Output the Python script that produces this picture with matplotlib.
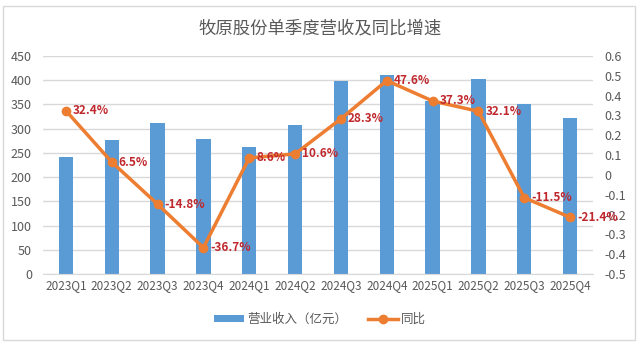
import matplotlib
matplotlib.use("Agg")
import matplotlib.pyplot as plt
from matplotlib.patches import Rectangle
from matplotlib.lines import Line2D
from matplotlib.patches import Patch

plt.rcParams['font.family'] = ['Noto Sans CJK SC', 'DejaVu Sans']

categories = ["2023Q1", "2023Q2", "2023Q3", "2023Q4", "2024Q1", "2024Q2",
              "2024Q3", "2024Q4", "2025Q1", "2025Q2", "2025Q3", "2025Q4"]
revenue = [241, 277, 311, 278, 263, 307, 398, 410, 358, 403, 351, 322]
yoy = [0.324, 0.065, -0.148, -0.367, 0.086, 0.106, 0.283, 0.476, 0.373, 0.321, -0.115, -0.214]
yoy_labels = ["32.4%", "6.5%", "-14.8%", "-36.7%", "8.6%", "10.6%",
              "28.3%", "47.6%", "37.3%", "32.1%", "-11.5%", "-21.4%"]
title = "牧原股份单季度营收及同比增速"
bar_name = "营业收入（亿元）"
line_name = "同比"

W, H = 640, 344
fig = plt.figure(figsize=(W/100, H/100), dpi=100)
fig.patches.append(Rectangle((3/W, 4/H), (635-3)/W, (340-6)/H, transform=fig.transFigure,
                             fill=False, edgecolor="#d9d9d9", linewidth=1))

ax = fig.add_axes([43/W, 1-274/H, (593-43)/W, (274-56)/H])
x = list(range(len(categories)))
bar_color = "#5B9BD5"
line_color = "#ED7D31"
grid_color = "#d9d9d9"
txt_color = "#595959"

ax.bar(x, revenue, width=0.31, color=bar_color, zorder=2)
ax.set_xlim(-0.5, len(categories) - 0.5)
ax.set_ylim(0, 450)
ax.set_yticks(range(0, 451, 50))
ax.yaxis.grid(True, color=grid_color, linewidth=1, zorder=0)
ax.set_axisbelow(True)
for s in ["top", "right", "left"]:
    ax.spines[s].set_visible(False)
ax.spines["bottom"].set_color(grid_color)
ax.tick_params(axis="both", length=0, colors=txt_color, labelsize=9)
ax.tick_params(axis="y", pad=8)
ax.set_xticks(x)
ax.set_xticklabels(categories, fontsize=8.5)

ax2 = ax.twinx()
ax2.set_ylim(-0.5, 0.6)
ax2.set_yticks([round(-0.5 + 0.1*i, 1) for i in range(12)])
ax2.set_yticklabels([("%g" % round(-0.5 + 0.1*i, 1)) for i in range(12)])
for s in ["top", "right", "left", "bottom"]:
    ax2.spines[s].set_visible(False)
ax2.tick_params(axis="y", length=0, colors=txt_color, labelsize=9, pad=8)
ax2.plot(x, yoy, color=line_color, linewidth=2.5, marker="o", markersize=6, zorder=3)
for xi, yi, lab in zip(x, yoy, yoy_labels):
    ax2.annotate(lab, (xi, yi), xytext=(5, 0), textcoords="offset points",
                 ha="left", va="center", color="#C0282D", fontsize=8.5, fontweight="bold",
                 zorder=5)

fig.text(0.5, 1-28/H, title, ha="center", va="center", fontsize=12.5, color=txt_color)

handles = [Patch(facecolor=bar_color, edgecolor="none"),
           Line2D([0], [0], color=line_color, linewidth=2.5, marker="o", markersize=6)]
fig.legend(handles, [bar_name, line_name], loc="center", bbox_to_anchor=(0.5, 1-319/H),
           ncol=2, frameon=False, fontsize=9, labelcolor=txt_color, handlelength=2.4,
           handleheight=0.5, handletextpad=0.25, columnspacing=1.6)

fig.savefig("out.png", dpi=100)
